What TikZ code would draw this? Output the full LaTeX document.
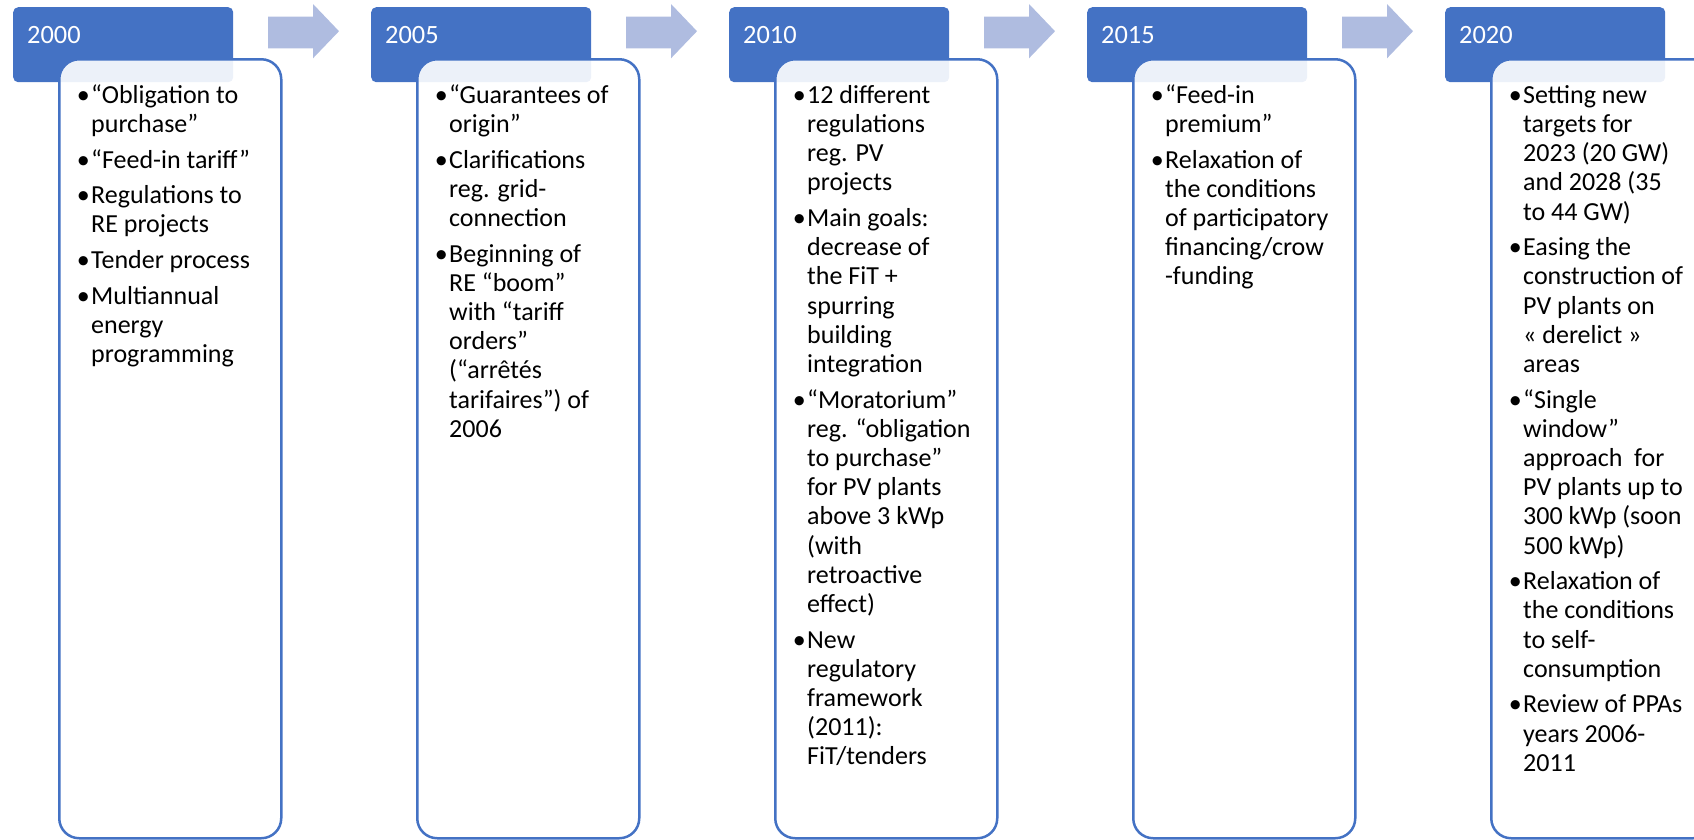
\documentclass[tikz,border=0pt]{standalone}
\usepackage{fontspec}
\setmainfont{Carlito}
\definecolor{hdr}{HTML}{4472C4}
\definecolor{arr}{HTML}{AFBCE0}
\tikzset{
  hdrbox/.style={fill=hdr, draw=none, rounded corners=5pt, anchor=north west,
    minimum width=220pt, minimum height=75pt, inner sep=0pt},
  hdrtxt/.style={anchor=base west, inner sep=0pt, text=white,
    font=\fontsize{26.4}{32}\selectfont},
  cbox/.style={draw=hdr, line width=2.5pt, fill=white, fill opacity=0.9,
    rounded corners=20pt, anchor=north west, minimum width=222pt,
    minimum height=779pt, inner sep=0pt},
  body/.style={anchor=base west, inner sep=0pt, text=black,
    font=\fontsize{26}{29.2}\selectfont},
  flowarrow/.style={fill=arr, draw=none},
}
\newcommand\bl{\llap{•\kern1.5pt}}
\newcommand\gap{\\[6.4pt]}
\begin{document}
\begin{tikzpicture}[x=1pt,y=-1pt]
\clip (0,0) rectangle (1694,839);
% arrows between stages
\foreach \i in {0,1,2,3}{
  \pgfmathsetmacro\o{358*\i}
  \fill[flowarrow] (268+\o,16.7) -- (313+\o,16.7) -- (313+\o,4) -- (339+\o,31.2)
    -- (313+\o,58.3) -- (313+\o,48.3) -- (268+\o,48.3) -- cycle;
}
% headers
\node[hdrbox] (h0) at (13,7) {};
\node[hdrbox] (h1) at (371,7) {};
\node[hdrbox] (h2) at (729,7) {};
\node[hdrbox] (h3) at (1087,7) {};
\node[hdrbox] (h4) at (1445,7) {};
\node[hdrtxt] (y0) at (27,43) {2000};
\node[hdrtxt] (y1) at (385,43) {2005};
\node[hdrtxt] (y2) at (743,43) {2010};
\node[hdrtxt] (y3) at (1101,43) {2015};
\node[hdrtxt] (y4) at (1459,43) {2020};
% content boxes
\node[cbox] (b0) at (58,58) {};
\node[cbox] (b1) at (416,58) {};
\node[cbox] (b2) at (774,58) {};
\node[cbox] (b3) at (1132,58) {};
\node[cbox] (b4) at (1490,58) {};
% texts
\node[body] (t0) at (91,103.3) {\begin{tabular}[t]{@{}l@{}}
\bl “Obligation to\\ purchase”\gap
\bl “Feed-in tariff”\gap
\bl Regulations to\\ RE projects\gap
\bl Tender process\gap
\bl Multiannual\\ energy\\ programming
\end{tabular}};
\node[body] (t1) at (449,103.3) {\begin{tabular}[t]{@{}l@{}}
\bl “Guarantees of\\ origin”\gap
\bl Clarifications\\ reg. grid-\\ connection\gap
\bl Beginning of\\ RE “boom”\\ with “tariff\\ orders”\\ (“arrêtés\\ tarifaires”) of\\ 2006
\end{tabular}};
\node[body] (t2) at (807,103.3) {\begin{tabular}[t]{@{}l@{}}
\bl 12 different\\ regulations\\ reg. PV\\ projects\gap
\bl Main goals:\\ decrease of\\ the FiT +\\ spurring\\ building\\ integration\gap
\bl “Moratorium”\\ reg. “obligation\\ to purchase”\\ for PV plants\\ above 3 kWp\\ (with\\ retroactive\\ effect)\gap
\bl New\\ regulatory\\ framework\\ (2011):\\ FiT/tenders
\end{tabular}};
\node[body] (t3) at (1165,103.3) {\begin{tabular}[t]{@{}l@{}}
\bl “Feed-in\\ premium”\gap
\bl Relaxation of\\ the conditions\\ of participatory\\ financing/crow\\ -funding
\end{tabular}};
\node[body] (t4) at (1523,103.3) {\begin{tabular}[t]{@{}l@{}}
\bl Setting new\\ targets for\\ 2023 (20 GW)\\ and 2028 (35\\ to 44 GW)\gap
\bl Easing the\\ construction of\\ PV plants on\\ « derelict »\\ areas\gap
\bl “Single\\ window”\\ approach\ \ for\\ PV plants up to\\ 300 kWp (soon\\ 500 kWp)\gap
\bl Relaxation of\\ the conditions\\ to self-\\ consumption\gap
\bl Review of PPAs\\ years 2006-\\ 2011
\end{tabular}};
\end{tikzpicture}
\end{document}
